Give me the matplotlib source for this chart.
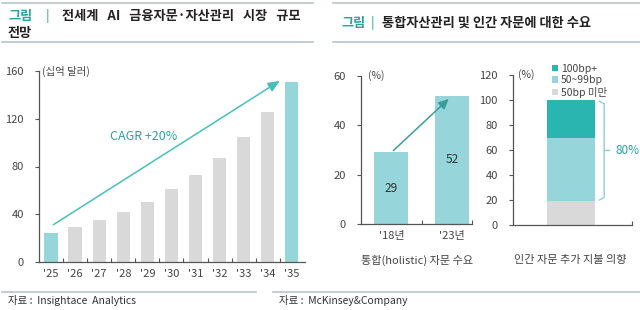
import matplotlib
matplotlib.use("Agg")
import matplotlib.pyplot as plt
from matplotlib.lines import Line2D
import numpy as np

plt.rcParams["font.family"] = ["Noto Sans CJK KR", "DejaVu Sans"]

# left panel: market size (billion USD)
YEARS = ["'25", "'26", "'27", "'28", "'29", "'30", "'31", "'32", "'33", "'34", "'35"]
MARKET = [24, 29, 35, 42, 50, 61, 73, 87, 105, 126, 151]

# right panel 1: holistic advice demand (%)
HOLISTIC_CATS = ["'18년", "'23년"]
HOLISTIC_VALS = [29, 52]

# right panel 2: willingness to pay (%)
WTP_LABELS = ["50bp 미만", "50~99bp", "100bp+"]
WTP_VALS = [19, 51, 30]

TEAL_LIGHT = "#96d5d9"
TEAL_DARK = "#2bb5b1"
GRAY_BAR = "#d9d9d9"
TEAL_TEXT = "#2aa39e"
AXIS_COLOR = "#555555"
TICK_COLOR = "#444444"

W, H = 640, 310
fig = plt.figure(figsize=(W / 100, H / 100), dpi=100)


def box(x0, y0, x1, y1):
    # pixel box (top-left origin) -> figure fraction rect
    return [x0 / W, (H - y1) / H, (x1 - x0) / W, (y1 - y0) / H]


def ftext(x, y, s, **kw):
    fig.text(x / W, (H - y) / H, s, **kw)


def hline(x0, x1, y, color="#b8c4cc", lw=1.2):
    fig.add_artist(Line2D([x0 / W, x1 / W], [(H - y) / H, (H - y) / H],
                          color=color, linewidth=lw, transform=fig.transFigure))


def style_axes(ax):
    for side in ["top", "right"]:
        ax.spines[side].set_visible(False)
    for side in ["left", "bottom"]:
        ax.spines[side].set_color(AXIS_COLOR)
        ax.spines[side].set_linewidth(0.9)
    ax.tick_params(axis="y", direction="out", length=3, width=0.8,
                   color=AXIS_COLOR, labelsize=8, labelcolor=TICK_COLOR, pad=8)
    ax.tick_params(axis="x", which="major", length=0, labelsize=8,
                   labelcolor=TICK_COLOR, pad=5)
    ax.tick_params(axis="x", which="minor", direction="in", length=3,
                   width=0.8, color=AXIS_COLOR)


# header / footer lines and titles
hline(2, 313, 3)
hline(2, 313, 42)
hline(333, 640, 3)
hline(333, 640, 42)
hline(2, 256, 292)
hline(273, 640, 292)

ftext(8, 16, "그림", color=TEAL_TEXT, fontsize=9.5, fontweight="bold", va="center")
ftext(46, 16, "|", color=TEAL_TEXT, fontsize=9.5, va="center")
ftext(62, 16, "전세계   AI   금융자문·자산관리   시장   규모", color="#222222",
      fontsize=9.5, fontweight="bold", va="center")
ftext(8, 33, "전망", color="#222222", fontsize=9.5, fontweight="bold", va="center")

ftext(341, 23, "그림", color=TEAL_TEXT, fontsize=9.5, fontweight="bold", va="center")
ftext(371, 23, "|", color=TEAL_TEXT, fontsize=9.5, va="center")
ftext(382, 23, "통합자산관리 및 인간 자문에 대한 수요", color="#222222",
      fontsize=9.5, fontweight="bold", va="center")

ftext(8, 301, "자료 :  Insightace  Analytics", color="#333333", fontsize=7.5, va="center")
ftext(279, 301, "자료 :  McKinsey&Company", color="#333333", fontsize=7.5, va="center")

# ---- left chart
ax1 = fig.add_axes(box(39, 71, 305, 262))
x = np.arange(len(YEARS))
colors = [TEAL_LIGHT] + [GRAY_BAR] * (len(YEARS) - 2) + [TEAL_LIGHT]
ax1.bar(x, MARKET, width=0.55, color=colors, zorder=2)
ax1.set_xlim(-0.5, 10.55)
ax1.set_ylim(0, 160)
ax1.set_yticks([0, 40, 80, 120, 160])
ax1.set_xticks(x)
ax1.set_xticklabels(YEARS)
ax1.set_xticks(np.arange(0.5, 10.5, 1.0), minor=True)
style_axes(ax1)
ax1.text(-0.38, 160, "(십억 달러)", fontsize=7.5, color=TICK_COLOR, va="center", ha="left")
ax1.annotate("", xy=(9.6, 153), xytext=(0, 30),
             arrowprops=dict(arrowstyle="-|>,head_length=0.7,head_width=0.3",
                             color="#45c0bd", lw=1.1),
             annotation_clip=False)
ax1.text(3.85, 105, "CAGR +20%", fontsize=9, color=TEAL_TEXT, style="italic",
         ha="center", va="center")

# ---- right chart 1
ax2 = fig.add_axes(box(361, 76, 472, 224))
xh = np.arange(len(HOLISTIC_CATS))
ax2.bar(xh, HOLISTIC_VALS, width=0.56, color=TEAL_LIGHT, zorder=2)
ax2.set_xlim(-0.5, 1.33)
ax2.set_ylim(0, 60)
ax2.set_yticks([0, 20, 40, 60])
ax2.set_xticks(xh)
ax2.set_xticklabels(HOLISTIC_CATS)
ax2.set_xticks([0.5, 1.33], minor=True)
style_axes(ax2)
for xi, v in zip(xh, HOLISTIC_VALS):
    ax2.text(xi, v / 2, str(v), ha="center", va="center", fontsize=8.5, color="#333333")
ax2.text(-0.38, 60, "(%)", fontsize=7.5, color=TICK_COLOR, va="center", ha="left")
ax2.annotate("", xy=(0.98, 51.5), xytext=(0, 29),
             arrowprops=dict(arrowstyle="-|>,head_length=0.6,head_width=0.28",
                             color="#3a9d9a", lw=1.1),
             annotation_clip=False)
ftext(417, 260, "통합(holistic) 자문 수요", fontsize=8, color=TICK_COLOR,
      ha="center", va="center")

# ---- right chart 2
ax3 = fig.add_axes(box(513, 75, 632, 225))
stack_colors = [GRAY_BAR, TEAL_LIGHT, TEAL_DARK]
bottom = 0
for lab, v, c in zip(WTP_LABELS, WTP_VALS, stack_colors):
    ax3.bar(0, v, bottom=bottom, width=0.5, color=c, zorder=2, label=lab)
    bottom += v
ax3.set_xlim(-0.6, 0.64)
ax3.set_ylim(0, 120)
ax3.set_yticks([0, 20, 40, 60, 80, 100, 120])
ax3.set_xticks([])
ax3.set_xticks([0.64], minor=True)
style_axes(ax3)
ax3.text(-0.55, 120, "(%)", fontsize=7.5, color=TICK_COLOR, va="center", ha="left")
h, l = ax3.get_legend_handles_labels()
leg = ax3.legend(h[::-1], l[::-1], loc="upper left", bbox_to_anchor=(0.28, 1.11),
                 frameon=False, fontsize=7.5, handlelength=0.6, handleheight=0.6,
                 handletextpad=0.3, labelspacing=0.15, borderpad=0)
for t in leg.get_texts():
    t.set_color(TICK_COLOR)

# bracket for 80%
lo, hi = WTP_VALS[0] + 1, sum(WTP_VALS)
bx = 0.3
bc = "#8fcfd0"
ax3.plot([bx, bx + 0.05, bx + 0.05, bx], [hi - 1, hi - 3, lo + 2, lo],
         color=bc, lw=1.0, clip_on=False, solid_joinstyle="round")
mid = (lo + hi) / 2
ax3.plot([bx + 0.05, bx + 0.1], [mid, mid], color=bc, lw=1.0, clip_on=False)
ax3.text(bx + 0.17, mid, "80%", fontsize=8.5, color=TEAL_TEXT, va="center", ha="left")
ftext(570, 260, "인간 자문 추가 지불 의향", fontsize=8, color=TICK_COLOR,
      ha="center", va="center")

fig.savefig("out.png", dpi=100)
